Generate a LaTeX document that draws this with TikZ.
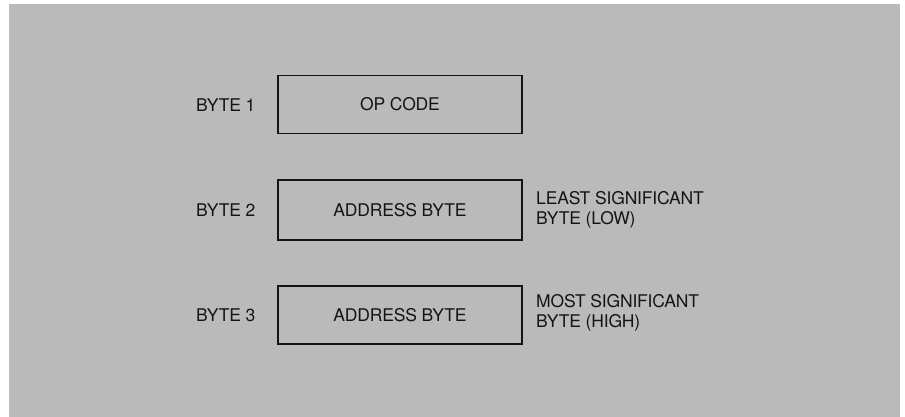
\documentclass[tikz,border=0pt]{standalone}
\usepackage{fontspec}
\setmainfont{TeX Gyre Heros}[LetterSpace=-1]
\definecolor{paper}{RGB}{186,186,186}
\definecolor{ink}{RGB}{20,20,20}
\tikzset{
  bytebox/.style={draw=ink, line width=1.5pt, minimum width=244pt, minimum height=58pt, inner sep=0pt, text=ink},
  lbl/.style={anchor=west, inner sep=0pt, text=ink},
  note/.style={anchor=west, inner sep=0pt, text=ink, align=left},
}
\begin{document}
\begin{tikzpicture}[x=1pt,y=-1pt, font=\fontsize{17.5}{20}\selectfont]
\useasboundingbox (0,0) rectangle (905,417);
\fill[paper] (9,4) rectangle (900,417);
\node[bytebox] (b1) at (400,104.5) {OP CODE};
\node[bytebox, minimum height=60pt] (b2) at (400,210) {ADDRESS BYTE};
\node[bytebox] (b3) at (400,315) {ADDRESS BYTE};
\node[lbl] (l1) at (196,105) {BYTE 1};
\node[lbl] (l2) at (196,210) {BYTE 2};
\node[lbl] (l3) at (196,315) {BYTE 3};
\node[note] (n2) at (536,210) {LEAST SIGNIFICANT\\BYTE (LOW)};
\node[note] (n3) at (536,313) {MOST SIGNIFICANT\\BYTE (HIGH)};
\end{tikzpicture}
\end{document}
